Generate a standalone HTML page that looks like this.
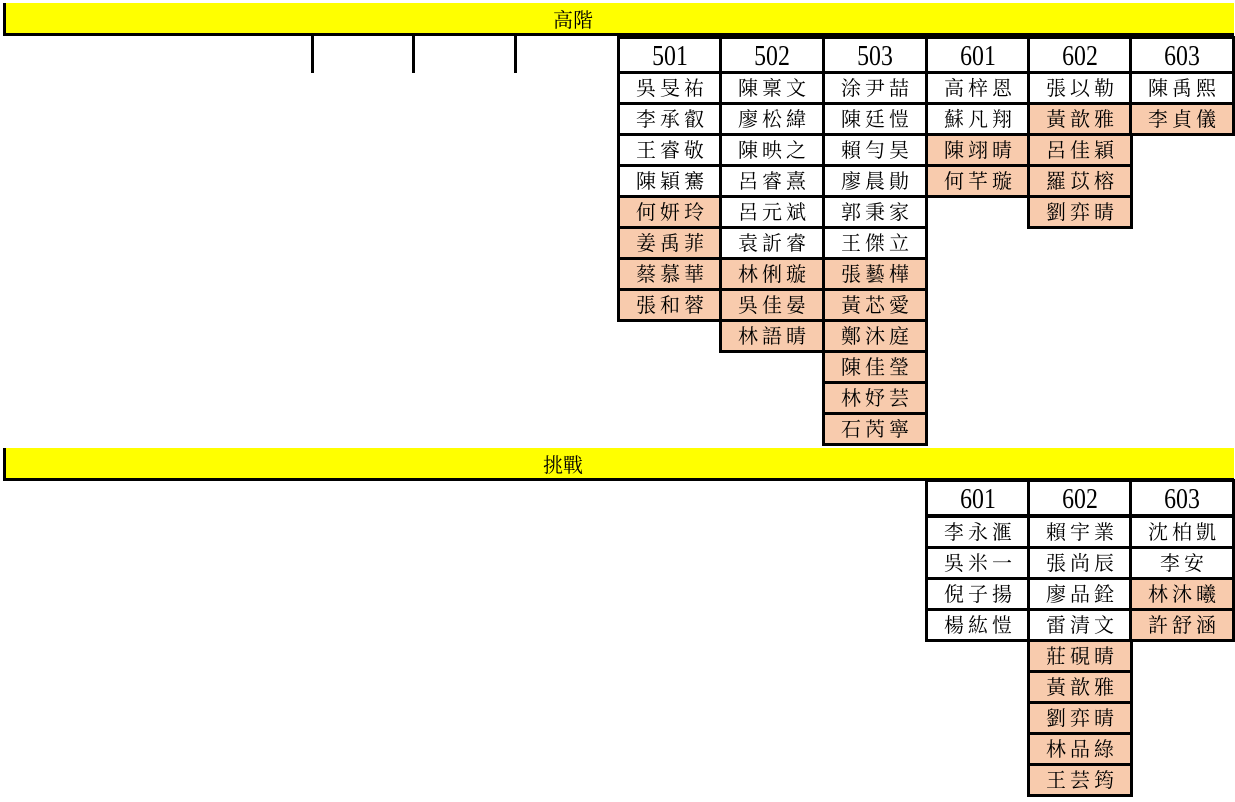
<!DOCTYPE html>
<html><head><meta charset="utf-8"><style>
body{margin:0;width:1235px;height:802px;background:#fff;position:relative;overflow:hidden;font-family:"Liberation Serif","Noto Serif CJK SC",serif;}
.bar{position:absolute;left:3px;width:1228px;height:30px;background:#ffff00;border-left:3px solid #000;border-bottom:3px solid #000;}
.bt{position:absolute;font-size:20px;line-height:34px;font-family:"Liberation Serif","Noto Serif CJK SC",serif;}
.c{position:absolute;box-sizing:border-box;width:106px;height:34px;border:3px solid #000;background:#fff;text-align:center;font-size:20px;line-height:31px;letter-spacing:4px;text-indent:4px;font-family:"Liberation Serif","Noto Serif CJK TC","Noto Serif CJK SC",serif;}
.h{height:38px;font-size:28px;line-height:36px;letter-spacing:0;text-indent:0;}
.h span{display:inline-block;transform:scaleX(0.85);}
.p{background:#f8cbad;}
.v{position:absolute;width:3px;background:#000;top:36px;height:37px;}
</style></head><body>
<div class="bar" style="top:3px"></div><div class="bt" style="left:553px;top:4px">高階</div>
<div class="v" style="left:311px"></div><div class="v" style="left:412px"></div><div class="v" style="left:514px"></div>

<div class="c h" style="left:617px;top:36px"><span>501</span></div>
<div class="c h" style="left:719px;top:36px"><span>502</span></div>
<div class="c h" style="left:822px;top:36px"><span>503</span></div>
<div class="c h" style="left:925px;top:36px"><span>601</span></div>
<div class="c h" style="left:1027px;top:36px"><span>602</span></div>
<div class="c h" style="left:1129px;top:36px"><span>603</span></div>

<div class="c" style="left:617px;top:71px">吳旻祐</div>
<div class="c" style="left:617px;top:102px">李承叡</div>
<div class="c" style="left:617px;top:133px">王睿敬</div>
<div class="c" style="left:617px;top:164px">陳穎騫</div>
<div class="c p" style="left:617px;top:195px">何妍玲</div>
<div class="c p" style="left:617px;top:226px">姜禹菲</div>
<div class="c p" style="left:617px;top:257px">蔡慕華</div>
<div class="c p" style="left:617px;top:288px">張和蓉</div>

<div class="c" style="left:719px;top:71px">陳稟文</div>
<div class="c" style="left:719px;top:102px">廖松緯</div>
<div class="c" style="left:719px;top:133px">陳映之</div>
<div class="c" style="left:719px;top:164px">呂睿熹</div>
<div class="c" style="left:719px;top:195px">呂元斌</div>
<div class="c" style="left:719px;top:226px">袁訢睿</div>
<div class="c p" style="left:719px;top:257px">林俐璇</div>
<div class="c p" style="left:719px;top:288px">吳佳晏</div>
<div class="c p" style="left:719px;top:319px">林語晴</div>

<div class="c" style="left:822px;top:71px">涂尹喆</div>
<div class="c" style="left:822px;top:102px">陳廷愷</div>
<div class="c" style="left:822px;top:133px">賴勻昊</div>
<div class="c" style="left:822px;top:164px">廖晨勛</div>
<div class="c" style="left:822px;top:195px">郭秉家</div>
<div class="c" style="left:822px;top:226px">王傑立</div>
<div class="c p" style="left:822px;top:257px">張藝樺</div>
<div class="c p" style="left:822px;top:288px">黃芯愛</div>
<div class="c p" style="left:822px;top:319px">鄭沐庭</div>
<div class="c p" style="left:822px;top:350px">陳佳瑩</div>
<div class="c p" style="left:822px;top:381px">林妤芸</div>
<div class="c p" style="left:822px;top:412px">石芮寧</div>

<div class="c" style="left:925px;top:71px">高梓恩</div>
<div class="c" style="left:925px;top:102px">蘇凡翔</div>
<div class="c p" style="left:925px;top:133px">陳翊晴</div>
<div class="c p" style="left:925px;top:164px">何芊璇</div>

<div class="c" style="left:1027px;top:71px">張以勒</div>
<div class="c p" style="left:1027px;top:102px">黃歆雅</div>
<div class="c p" style="left:1027px;top:133px">呂佳穎</div>
<div class="c p" style="left:1027px;top:164px">羅苡榕</div>
<div class="c p" style="left:1027px;top:195px">劉弈晴</div>

<div class="c" style="left:1129px;top:71px">陳禹熙</div>
<div class="c p" style="left:1129px;top:102px">李貞儀</div>

<div class="bar" style="top:448px"></div><div class="bt" style="left:543px;top:449px">挑戰</div>

<div class="c h" style="left:925px;top:479px"><span>601</span></div>
<div class="c h" style="left:1027px;top:479px"><span>602</span></div>
<div class="c h" style="left:1129px;top:479px"><span>603</span></div>

<div class="c" style="left:925px;top:515px">李永滙</div>
<div class="c" style="left:925px;top:546px">吳米一</div>
<div class="c" style="left:925px;top:577px">倪子揚</div>
<div class="c" style="left:925px;top:608px">楊紘愷</div>

<div class="c" style="left:1027px;top:515px">賴宇業</div>
<div class="c" style="left:1027px;top:546px">張尚辰</div>
<div class="c" style="left:1027px;top:577px">廖品銓</div>
<div class="c" style="left:1027px;top:608px">雷清文</div>
<div class="c p" style="left:1027px;top:639px">莊硯晴</div>
<div class="c p" style="left:1027px;top:670px">黃歆雅</div>
<div class="c p" style="left:1027px;top:701px">劉弈晴</div>
<div class="c p" style="left:1027px;top:732px">林品綠</div>
<div class="c p" style="left:1027px;top:763px">王芸筠</div>

<div class="c" style="left:1129px;top:515px">沈柏凱</div>
<div class="c" style="left:1129px;top:546px">李安</div>
<div class="c p" style="left:1129px;top:577px">林沐曦</div>
<div class="c p" style="left:1129px;top:608px">許舒涵</div>
</body></html>
